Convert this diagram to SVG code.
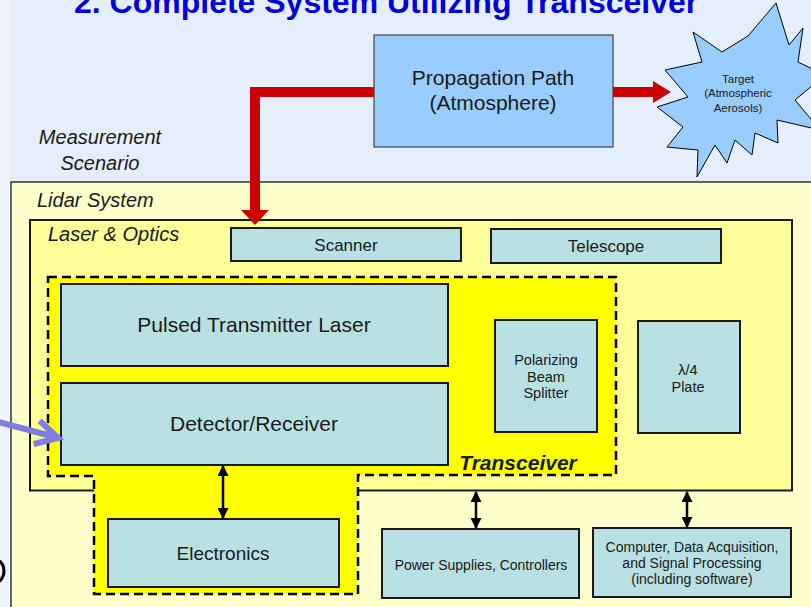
<svg xmlns="http://www.w3.org/2000/svg" width="811" height="607" viewBox="0 0 811 607">
<style>
.box{fill:#b9e0e3;stroke:#1a1a1a;stroke-width:2}
.t{font-family:"Liberation Sans",Arial,sans-serif;fill:#1a1a1a;text-anchor:middle}
.lbl{font-family:"Liberation Sans",Arial,sans-serif;font-style:italic;fill:#1a1a1a;font-size:20px}
.dbl{stroke:#000;stroke-width:2.5;marker-start:url(#ah);marker-end:url(#ah)}
.red{fill:#cc0000}
</style>
<defs>
<marker id="ah" viewBox="0 0 10 10" refX="9" refY="5" markerWidth="4.4" markerHeight="4.4" orient="auto-start-reverse" markerUnits="strokeWidth">
<path d="M0,0 L10,5 L0,10 z" fill="#000"/>
</marker>
</defs>
<rect x="0" y="0" width="811" height="607" fill="#e5effc"/>
<rect x="0" y="0" width="11" height="607" fill="#eef3fc"/>
<text x="74" y="13" font-family="Liberation Sans,Arial,sans-serif" font-weight="bold" font-size="32" fill="#0000dd">2. Complete System Utilizing Transceiver</text>

<g id="measurement-label">
<text class="lbl" x="100" y="144" text-anchor="middle" font-size="21">Measurement</text>
<text class="lbl" x="100" y="170" text-anchor="middle" font-size="21">Scenario</text>
</g>

<g id="lidar-system">
<rect x="11" y="182" width="812" height="440" fill="#ffffcc" stroke="#333" stroke-width="1.5"/>
<text class="lbl" x="37" y="207">Lidar System</text>
</g>

<g id="laser-optics">
<rect x="30" y="220" width="762" height="270.5" fill="#ffff99" stroke="#1a1a1a" stroke-width="2"/>
<text class="lbl" x="48" y="241" font-size="21">Laser &amp; Optics</text>
</g>

<g id="transceiver">
<polygon points="48,277 616,277 616,475 358,475 358,594 94,594 94,476 48,476" fill="#ffff00" stroke="#000" stroke-width="2.5" stroke-dasharray="9,5"/>
<text x="518" y="470" font-family="Liberation Sans,Arial,sans-serif" font-weight="bold" font-style="italic" font-size="21" fill="#1a1a1a" text-anchor="middle">Transceiver</text>
</g>

<g id="propagation-path">
<rect x="374" y="35" width="239" height="112" fill="#99ccff" stroke="#444" stroke-width="1.2"/>
<text class="t" x="493" y="85" font-size="21">Propagation Path</text>
<text class="t" x="493" y="110" font-size="21">(Atmosphere)</text>
</g>

<g id="target">
<polygon points="776,3 789,45 803,28 798,62 825,75 795,100 820,130 777,120 778,143 755,133 752,155 735,140 727,163 715,145 697,177 698,150 667,147 683,127 657,107 688,97 665,70 702,62 693,32 722,52 748,36" fill="#99ccff" stroke="#000" stroke-width="1"/>
<text class="t" x="738" y="83" font-size="11.5">Target</text>
<text class="t" x="738" y="97" font-size="11.5">(Atmospheric</text>
<text class="t" x="738" y="112" font-size="11.5">Aerosols)</text>
</g>

<g id="scanner">
<rect class="box" x="231" y="228" width="230" height="33"/>
<text class="t" x="346" y="251" font-size="17">Scanner</text>
</g>
<g id="telescope">
<rect class="box" x="491" y="229" width="230" height="34"/>
<text class="t" x="606" y="252" font-size="17">Telescope</text>
</g>

<g id="pulsed-laser">
<rect class="box" x="61" y="284" width="387" height="82"/>
<text class="t" x="254" y="332" font-size="21">Pulsed Transmitter Laser</text>
</g>
<g id="detector">
<rect class="box" x="61" y="383" width="387" height="82"/>
<text class="t" x="254" y="431" font-size="21">Detector/Receiver</text>
</g>
<g id="pbs">
<rect class="box" x="495" y="320" width="102" height="112"/>
<text class="t" x="546" y="365" font-size="14.5">Polarizing</text>
<text class="t" x="546" y="382" font-size="14.5">Beam</text>
<text class="t" x="546" y="398" font-size="14.5">Splitter</text>
</g>
<g id="waveplate">
<rect class="box" x="638" y="321" width="102" height="112"/>
<text class="t" x="688" y="375" font-size="14.5">λ/4</text>
<text class="t" x="688" y="392" font-size="14.5">Plate</text>
</g>
<g id="electronics">
<rect class="box" x="108" y="519" width="231" height="68"/>
<text class="t" x="223" y="560" font-size="19">Electronics</text>
</g>
<g id="power">
<rect class="box" x="382" y="529" width="197" height="69"/>
<text class="t" x="481" y="570" font-size="14">Power Supplies, Controllers</text>
</g>
<g id="computer">
<rect class="box" x="593" y="528" width="198" height="69"/>
<text class="t" x="692" y="552" font-size="14">Computer, Data Acquisition,</text>
<text class="t" x="692" y="568" font-size="14">and Signal Processing</text>
<text class="t" x="692" y="584" font-size="14">(including software)</text>
</g>

<g id="connectors">
<polyline points="374,92 255,92 255,211" fill="none" stroke="#cc0000" stroke-width="10"/>
<polygon class="red" points="241,210 269,210 255,225"/>
<line x1="613" y1="92" x2="655" y2="92" stroke="#cc0000" stroke-width="10"/>
<polygon class="red" points="653,81 653,103 671,92"/>
<line class="dbl" x1="223" y1="466" x2="223" y2="518"/>
<line class="dbl" x1="476" y1="492" x2="476" y2="528"/>
<line class="dbl" x1="687" y1="492" x2="687" y2="527"/>
<line x1="-5" y1="421" x2="55" y2="437" stroke="#7f7fdf" stroke-width="6"/>
<polyline points="39.7,420.8 58,438 33.7,444" fill="none" stroke="#7f7fdf" stroke-width="6" stroke-linejoin="miter"/>
<ellipse cx="-6" cy="571" rx="10" ry="12" fill="none" stroke="#000" stroke-width="3"/>
</g>
</svg>
